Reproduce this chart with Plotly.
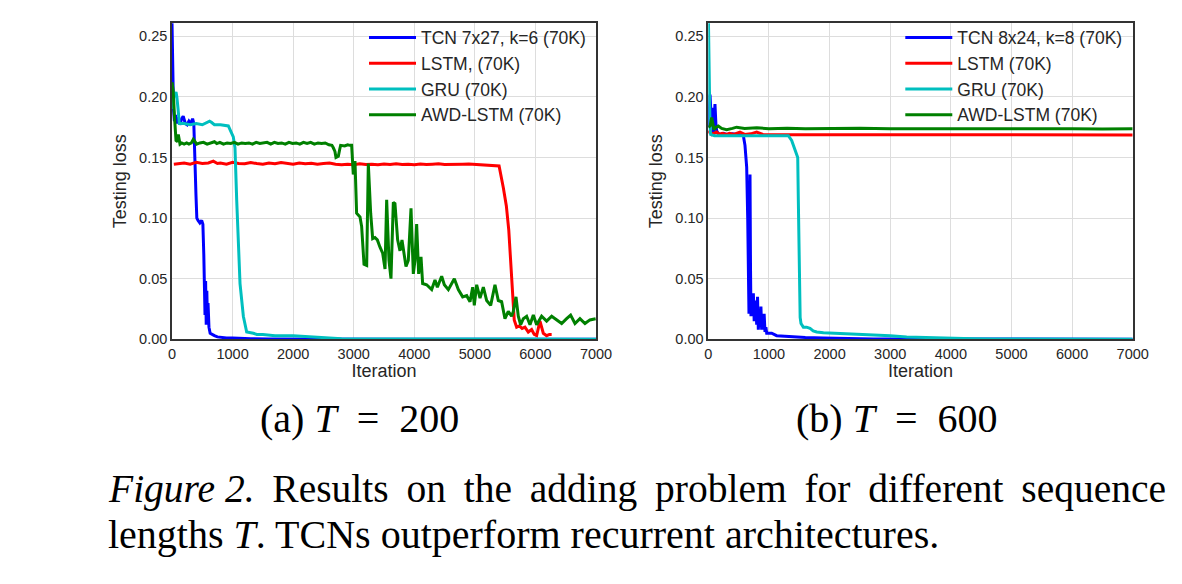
import plotly.graph_objects as go

# ---------------- Data: (a) T = 200 ----------------
a_tcn_x = [0, 10, 25, 40, 60, 80, 100, 130, 160, 185, 220, 250, 280, 310, 340, 360, 375, 385, 395, 410,
           430, 460, 490, 510, 525, 535, 545, 555, 565, 575, 585, 595, 610, 630, 660, 700, 750, 800, 900,
           1000, 1100, 1300, 1600, 2000, 3000, 4000, 5000, 6000, 7000]
a_tcn_y = [0.262, 0.23, 0.19, 0.18, 0.185, 0.178, 0.183, 0.177, 0.182, 0.184, 0.178, 0.177, 0.180, 0.178,
           0.182, 0.178, 0.16, 0.137, 0.12, 0.100, 0.098, 0.096, 0.098, 0.095, 0.07, 0.05, 0.02, 0.048,
           0.012, 0.04, 0.015, 0.03, 0.01, 0.005, 0.004, 0.003, 0.002, 0.0015, 0.001, 0.001, 0.0007,
           0.0005, 0.0003, 0.0002, 0.0001, 0.0001, 0.0001, 0.0001, 0.0001]

a_lstm_x = [30, 100, 200, 300, 400, 500, 600, 682, 750, 800, 900, 1000, 1100, 1200, 1300, 1400, 1500,
            1600, 1700, 1800, 1900, 2000, 2100, 2200, 2300, 2400, 2500, 2600, 2700, 2800, 2900, 3000,
            3100, 3200, 3300, 3400, 3500, 3600, 3700, 3800, 3900, 4000, 4100, 4200, 4300, 4400, 4500,
            4600, 4700, 4800, 4900, 5000, 5100, 5200, 5300, 5400, 5470, 5520, 5560, 5607, 5650, 5690,
            5734, 5780, 5827, 5882, 5937, 5980, 6020, 6075, 6130, 6185, 6230, 6268, 6295]
a_lstm_y = [0.1445, 0.1450, 0.1455, 0.1445, 0.1460, 0.1450, 0.1455, 0.1470, 0.1450, 0.1455,
            0.1445, 0.1460, 0.1450, 0.1448, 0.1458, 0.1450, 0.1445, 0.1455, 0.1448, 0.1458,
            0.1450, 0.1445, 0.1455, 0.1448, 0.1452, 0.1445, 0.1450, 0.1455, 0.1445, 0.1440,
            0.1445, 0.1440, 0.1448, 0.1442, 0.1445, 0.1440, 0.1446, 0.1442, 0.1448, 0.1442,
            0.1445, 0.1440, 0.1446, 0.1442, 0.1445, 0.1448, 0.1442, 0.1445, 0.1448, 0.1445,
            0.1446, 0.1442, 0.1440, 0.1435, 0.1432, 0.1430, 0.125, 0.110, 0.090, 0.050, 0.016,
            0.010, 0.011, 0.009, 0.010, 0.006, 0.008, 0.004, 0.003, 0.015, 0.005, 0.003, 0.004, 0.004]

a_gru_x = [0, 30, 66, 80, 100, 121, 150, 200, 300, 400, 500, 550, 600, 620, 650, 700, 800, 900, 930,
           1012, 1040, 1068, 1123, 1178, 1233, 1343, 1400, 1500, 1700, 2000, 2300, 2600, 2800, 3000,
           4000, 5000, 6000, 7000]
a_gru_y = [0.19, 0.20, 0.204, 0.20, 0.19, 0.178, 0.178, 0.178, 0.177, 0.178, 0.177, 0.178, 0.179,
           0.180, 0.179, 0.177, 0.177, 0.176, 0.176, 0.167, 0.158, 0.115, 0.046, 0.019, 0.006, 0.005,
           0.004, 0.004, 0.003, 0.003, 0.002, 0.001, 0.0005, 0.0003, 0.0002, 0.0001, 0.0001, 0.0001]

a_awd_x = [0, 20, 40, 66, 90, 104, 118, 132, 160, 200, 242, 280, 320, 352, 380, 407, 460, 520, 580,
           640, 700, 740, 790, 850, 910, 970, 1030, 1090, 1150, 1210, 1270, 1330, 1390, 1450, 1510,
           1570, 1630, 1690, 1750, 1810, 1870, 1930, 1990, 2050, 2110, 2170, 2230, 2290, 2350, 2410,
           2470, 2530, 2590, 2640, 2663, 2690, 2707, 2730, 2746, 2770, 2784, 2850, 2900, 2938, 2966,
           2993, 3021, 3048, 3104, 3131, 3170, 3214, 3241, 3280, 3313, 3351, 3390, 3434, 3478, 3517,
           3544, 3582, 3615, 3654, 3681, 3725, 3764, 3797, 3830, 3863, 3901, 3946, 3984, 4011, 4039,
           4072, 4111, 4138, 4204, 4287, 4342, 4381, 4452, 4496, 4562, 4661, 4727, 4799, 4865, 4920,
           4964, 4991, 5030, 5085, 5140, 5195, 5261, 5332, 5387, 5442, 5497, 5552, 5607, 5635, 5679,
           5717, 5756, 5800, 5855, 5910, 5965, 6020, 6102, 6185, 6268, 6350, 6433, 6515, 6581, 6653,
           6735, 6818, 6900, 6994]
a_awd_y = [0.212, 0.205, 0.185, 0.164, 0.163, 0.169, 0.165, 0.161, 0.162, 0.161, 0.162, 0.161, 0.162,
           0.165, 0.163, 0.161, 0.162, 0.1625, 0.161, 0.162, 0.163, 0.1615, 0.1625, 0.161, 0.162,
           0.1615, 0.1625, 0.161, 0.162, 0.1615, 0.162, 0.161, 0.1625, 0.1615, 0.162, 0.1625, 0.161,
           0.1625, 0.1615, 0.162, 0.161, 0.1625, 0.1615, 0.162, 0.161, 0.1625, 0.1615, 0.1625, 0.161,
           0.162, 0.1615, 0.162, 0.1605, 0.160, 0.158, 0.155, 0.150, 0.151, 0.151, 0.157, 0.160,
           0.1595, 0.1605, 0.160, 0.160, 0.136, 0.147, 0.104, 0.101, 0.093, 0.062, 0.061, 0.145,
           0.104, 0.083, 0.084, 0.082, 0.076, 0.071, 0.058, 0.115, 0.065, 0.050, 0.113, 0.112, 0.082,
           0.073, 0.082, 0.071, 0.060, 0.065, 0.108, 0.054, 0.065, 0.095, 0.054, 0.068, 0.046, 0.045,
           0.041, 0.049, 0.043, 0.052, 0.045, 0.041, 0.050, 0.041, 0.035, 0.036, 0.031, 0.043, 0.028,
           0.045, 0.034, 0.043, 0.032, 0.028, 0.045, 0.032, 0.031, 0.017, 0.023, 0.019, 0.023, 0.035,
           0.019, 0.012, 0.017, 0.019, 0.012, 0.020, 0.012, 0.019, 0.015, 0.019, 0.016, 0.013, 0.017,
           0.020, 0.013, 0.017, 0.013, 0.016, 0.017]

# ---------------- Data: (b) T = 600 ----------------
b_tcn_x = [0, 15, 28, 45, 56, 70, 83, 100, 110, 125, 138, 160, 193, 250, 300, 400, 500, 578, 605, 633,
           650, 660, 671, 680, 688, 696, 704, 715, 730, 743, 757, 770, 784, 798, 812, 825, 840, 855,
           868, 880, 895, 908, 921, 935, 950, 963, 1000, 1045, 1128, 1250, 1348, 1600, 1897, 2300,
           2722, 3500, 5000, 7000]
b_tcn_y = [0.175, 0.185, 0.202, 0.185, 0.191, 0.175, 0.169, 0.185, 0.194, 0.178, 0.172, 0.170, 0.169,
           0.170, 0.169, 0.1695, 0.169, 0.168, 0.160, 0.142, 0.10, 0.060, 0.021, 0.05, 0.136, 0.06,
           0.019, 0.035, 0.02, 0.038, 0.015, 0.021, 0.032, 0.012, 0.035, 0.008, 0.02, 0.01, 0.027,
           0.008, 0.02, 0.008, 0.021, 0.006, 0.01, 0.005, 0.005, 0.005, 0.003, 0.0025, 0.002, 0.0015,
           0.001, 0.0006, 0.0003, 0.0002, 0.0001, 0.0001]

b_lstm_x = [0, 30, 60, 100, 138, 180, 230, 302, 350, 420, 522, 600, 700, 797, 900, 1000, 1200, 1500,
            2000, 2500, 3000, 3500, 4000, 4500, 5000, 5500, 6000, 6500, 7000]
b_lstm_y = [0.170, 0.172, 0.169, 0.170, 0.171, 0.169, 0.170, 0.169, 0.170, 0.169, 0.171, 0.169,
            0.1695, 0.171, 0.169, 0.1688, 0.1688, 0.1687, 0.1688, 0.1686, 0.1687, 0.1686, 0.1686,
            0.1686, 0.1686, 0.1686, 0.1686, 0.1686, 0.1686]

b_gru_x = [0, 10, 17, 28, 39, 60, 100, 200, 400, 600, 800, 1000, 1200, 1320, 1375, 1430, 1458, 1475,
           1485, 1495, 1502, 1515, 1529, 1568, 1620, 1678, 1730, 1788, 1900, 2173, 2450, 2722, 3000,
           3272, 3550, 3822, 4100, 4371, 4700, 5000, 6000, 7000]
b_gru_y = [0.27, 0.23, 0.197, 0.175, 0.169, 0.1685, 0.168, 0.168, 0.168, 0.168, 0.168, 0.168, 0.168,
           0.168, 0.164, 0.156, 0.153, 0.150, 0.115, 0.060, 0.032, 0.018, 0.013, 0.010, 0.010, 0.009,
           0.007, 0.006, 0.0055, 0.005, 0.004, 0.0035, 0.003, 0.002, 0.0015, 0.001, 0.0008, 0.0005,
           0.0003, 0.0002, 0.0001, 0.0001]

b_awd_x = [0, 30, 56, 75, 94, 130, 165, 220, 302, 400, 467, 600, 800, 1000, 1300, 1600, 2000, 2500,
           3000, 3500, 4000, 4500, 5000, 5500, 6000, 6500, 7000]
b_awd_y = [0.175, 0.176, 0.183, 0.178, 0.173, 0.175, 0.176, 0.174, 0.173, 0.174, 0.175, 0.174,
           0.1745, 0.1738, 0.1742, 0.1738, 0.1740, 0.1742, 0.1738, 0.1740, 0.1738, 0.1737, 0.1739,
           0.1737, 0.1738, 0.1736, 0.1737]

labels_a = ["TCN 7x27, k=6 (70K)", "LSTM, (70K)", "GRU (70K)", "AWD-LSTM (70K)"]
labels_b = ["TCN 8x24, k=8 (70K)", "LSTM (70K)", "GRU (70K)", "AWD-LSTM (70K)"]
colors = ["#0000ff", "#ff0000", "#00bfbf", "#008000"]

x_ticks = [0, 1000, 2000, 3000, 4000, 5000, 6000, 7000]
y_ticks = [0.0, 0.05, 0.10, 0.15, 0.20, 0.25]

# ---------------- Figure ----------------
W, H = 1182, 584
fig = go.Figure()

series_a = [(a_tcn_x, a_tcn_y), (a_lstm_x, a_lstm_y), (a_gru_x, a_gru_y), (a_awd_x, a_awd_y)]
series_b = [(b_tcn_x, b_tcn_y), (b_lstm_x, b_lstm_y), (b_gru_x, b_gru_y), (b_awd_x, b_awd_y)]

for (xs, ys), name, c in zip(series_a, labels_a, colors):
    fig.add_trace(go.Scatter(x=xs, y=ys, mode="lines", name=name,
                             line=dict(color=c, width=3), xaxis="x", yaxis="y",
                             legend="legend"))
for (xs, ys), name, c in zip(series_b, labels_b, colors):
    fig.add_trace(go.Scatter(x=xs, y=ys, mode="lines", name=name,
                             line=dict(color=c, width=3), xaxis="x2", yaxis="y2",
                             legend="legend2"))

SANS = "Liberation Sans, Arial, sans-serif"
SERIF = "Liberation Serif, Times New Roman, serif"


def px_x(p):
    return p / W


def px_y(p):
    return 1 - p / H


ydom = [px_y(339.3), px_y(23.3)]

common_x = dict(range=[0, 7000], tickvals=x_ticks, showgrid=True, gridcolor="#dddddd", gridwidth=1.2,
                showline=True, linecolor="#333333", linewidth=1.6, mirror=True, ticks="",
                automargin=False,
                tickfont=dict(family=SANS, size=14.5, color="#262626"), zeroline=False,
                title=dict(text="Iteration", font=dict(family=SANS, size=18, color="#262626"), standoff=2))
common_y = dict(range=[0, 0.2607], tickvals=y_ticks, tickformat=".2f", showgrid=True,
                gridcolor="#dddddd", gridwidth=1.2, showline=True, linecolor="#333333", linewidth=1.6,
                mirror=True, ticks="", tickfont=dict(family=SANS, size=14.5, color="#262626"),
                zeroline=False, automargin=False,
                title=dict(text="Testing loss", font=dict(family=SANS, size=18, color="#262626"), standoff=8))

leg_common = dict(font=dict(family=SANS, size=17.5, color="#262626"), bgcolor="rgba(0,0,0,0)",
                  borderwidth=0, itemwidth=47, xanchor="left", yanchor="top", tracegroupgap=0)

fig.update_layout(
    width=W, height=H, margin=dict(l=0, r=0, t=0, b=0, autoexpand=False),
    paper_bgcolor="white", plot_bgcolor="white",
    xaxis=dict(domain=[px_x(172), px_x(596)], anchor="y", **common_x),
    yaxis=dict(domain=ydom, anchor="x", **common_y),
    xaxis2=dict(domain=[px_x(708.3), px_x(1132.7)], anchor="y2", **common_x),
    yaxis2=dict(domain=ydom, anchor="x2", **common_y),
    legend=dict(x=px_x(364), y=px_y(19.5), **leg_common),
    legend2=dict(x=px_x(900.3), y=px_y(19.5), **leg_common),
    showlegend=True,
)

ann_font = dict(family=SERIF, size=40, color="black")
fig.add_annotation(x=px_x(359), y=px_y(418), xref="paper", yref="paper", showarrow=False,
                   text="(a) <i>T</i>\u2002=\u2002200", font=ann_font, xanchor="center", yanchor="middle")
fig.add_annotation(x=px_x(896), y=px_y(418), xref="paper", yref="paper", showarrow=False,
                   text="(b) <i>T</i>\u2002=\u2002600", font=ann_font, xanchor="center", yanchor="middle")

line1_words = ["<i>Figure 2.</i>", "Results", "on", "the", "adding", "problem", "for", "different", "sequence"]
fig.add_annotation(x=px_x(106), y=px_y(489), xref="paper", yref="paper", showarrow=False,
                   text=" \u2009".join(line1_words), font=dict(family=SERIF, size=39.5, color="black"),
                   xanchor="left", yanchor="middle")
fig.add_annotation(x=px_x(106), y=px_y(534), xref="paper", yref="paper", showarrow=False,
                   text="lengths <i>T</i>. TCNs outperform recurrent architectures.",
                   font=dict(family=SERIF, size=40, color="black"), xanchor="left", yanchor="middle")

# page without the default body margin so the figure fills the window exactly
fig.write_html("out.html", config={"displayModeBar": False}, post_script=(
    "document.documentElement.style.margin='0';document.body.style.margin='0';"
    "document.documentElement.style.overflow='hidden';document.body.style.overflow='hidden';"))
